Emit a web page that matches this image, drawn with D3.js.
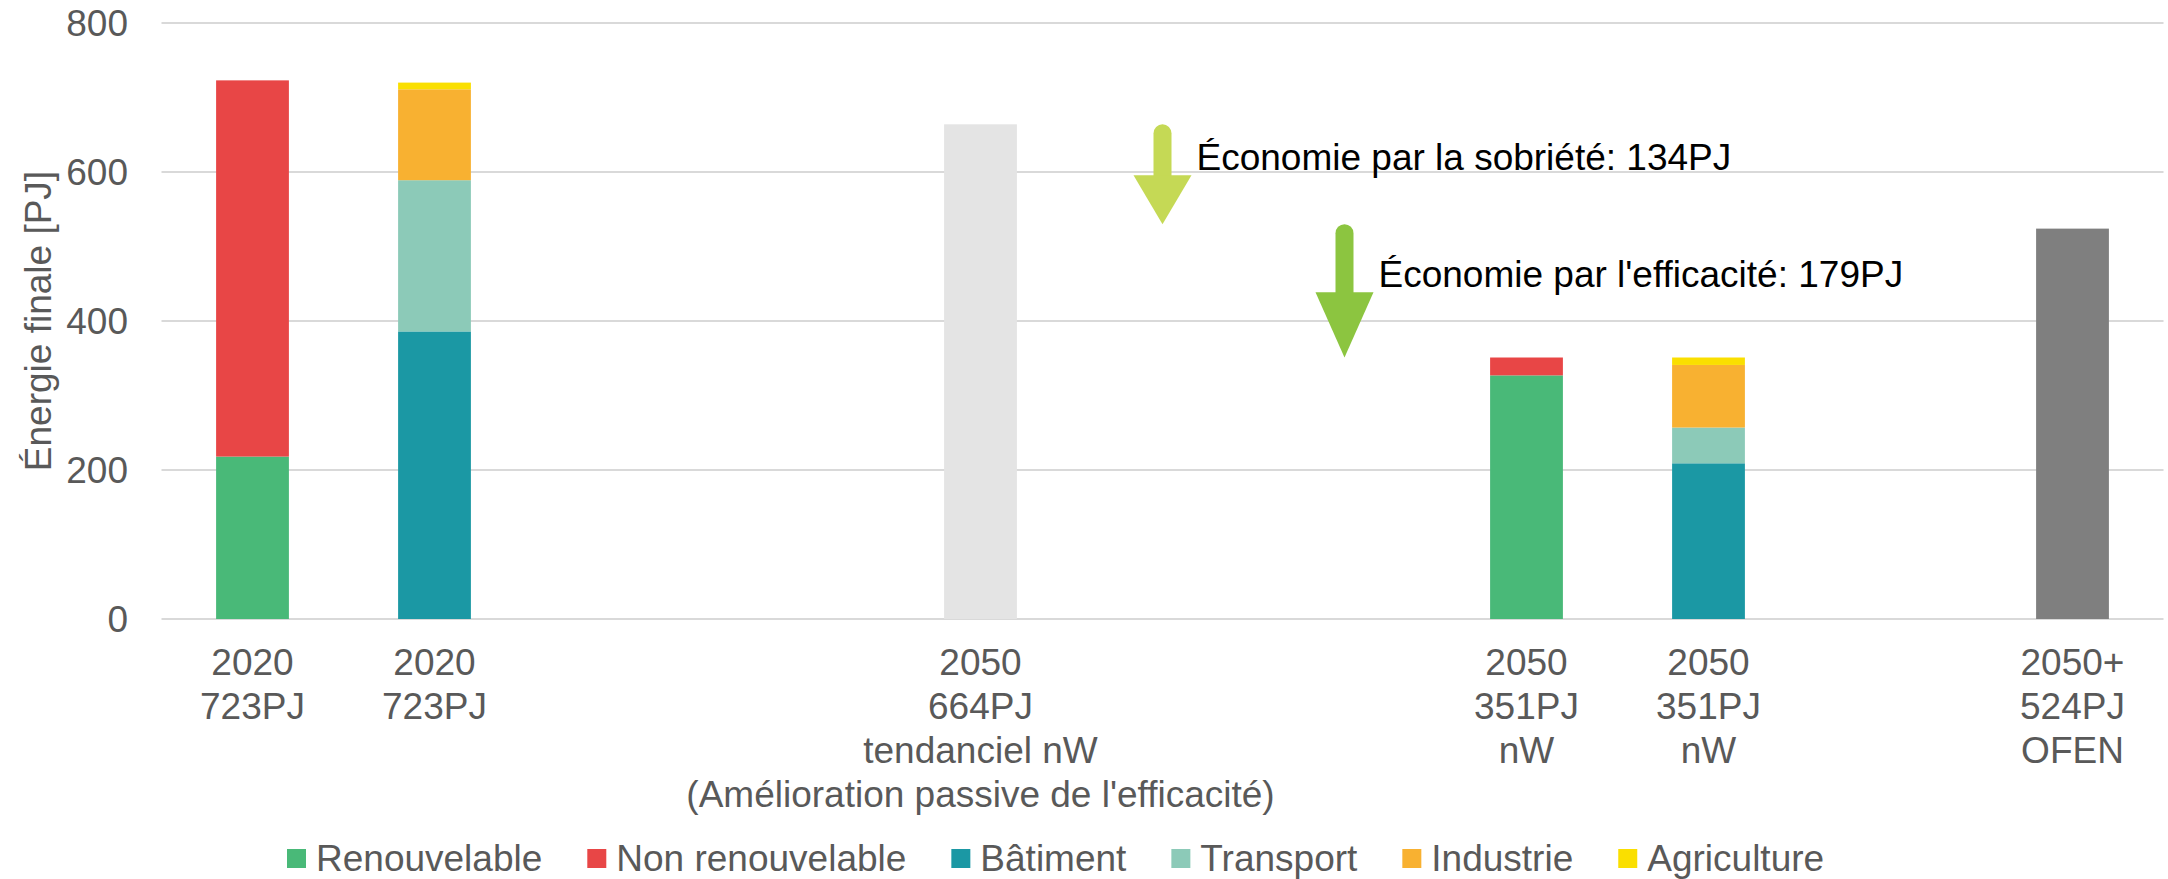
<!DOCTYPE html>
<html>
<head>
<meta charset="utf-8">
<script src="https://cdn.jsdelivr.net/npm/d3@7"></script>
<style>
  body { margin: 0; background: #fff; }
  text { font-family: "Liberation Sans", Arial, sans-serif; }
</style>
</head>
<body>
<div id="chart"></div>
<script>
// categories (11 slots, some left empty like in the original sheet)
var categories = [
  "2020\n723PJ",
  "2020\n723PJ",
  "",
  "",
  "2050\n664PJ\ntendanciel nW\n(Amélioration passive de l'efficacité)",
  "",
  "",
  "2050\n351PJ\nnW",
  "2050\n351PJ\nnW",
  "",
  "2050+\n524PJ\nOFEN"
];

// series values per category
var renouvelable    = [218, 0, 0, 0, 0, 0, 0, 327, 0, 0, 0];
var nonRenouvelable = [505, 0, 0, 0, 0, 0, 0, 24, 0, 0, 0];
var batiment        = [0, 386, 0, 0, 0, 0, 0, 0, 209, 0, 0];
var transport       = [0, 203, 0, 0, 0, 0, 0, 0, 48, 0, 0];
var industrie       = [0, 122, 0, 0, 0, 0, 0, 0, 84, 0, 0];
var agriculture     = [0, 9, 0, 0, 0, 0, 0, 0, 10, 0, 0];
var tendanciel      = [0, 0, 0, 0, 664, 0, 0, 0, 0, 0, 0];
var ofen            = [0, 0, 0, 0, 0, 0, 0, 0, 0, 0, 524];

var legendNames = ["Renouvelable", "Non renouvelable", "Bâtiment", "Transport", "Industrie", "Agriculture"];
var yTicks = [0, 200, 400, 600, 800];

// savings arrows
var arrowSlots  = [5, 6];
var arrowFrom   = [664, 530];
var arrowTo     = [530, 351];
var arrowLabels = ["Économie par la sobriété: 134PJ", "Économie par l'efficacité: 179PJ"];

var colors = {
  "Renouvelable": "#49b978",
  "Non renouvelable": "#e84646",
  "Bâtiment": "#1b98a4",
  "Transport": "#8ccab8",
  "Industrie": "#f8b131",
  "Agriculture": "#fadf00",
  "tendanciel": "#e4e4e4",
  "ofen": "#7f7f7f"
};
var arrowColors = ["#c5d955", "#8cc540"];

function drawChart() {
  var W = 2168, H = 879;
  var plotLeft = 161.5, plotRight = 2163.5, plotTop = 23, plotBottom = 619;
  var fs = "37px";

  var svg = d3.select("#chart").append("svg")
    .attr("width", W).attr("height", H);

  var x = d3.scaleBand()
    .domain(d3.range(categories.length))
    .range([plotLeft, plotRight])
    .paddingInner(0.6)
    .paddingOuter(0.3);

  var y = d3.scaleLinear().domain([0, 800]).range([plotBottom, plotTop]);

  // gridlines
  svg.append("g")
    .selectAll("line")
    .data(yTicks)
    .enter()
    .append("line")
    .attr("x1", plotLeft).attr("x2", plotRight)
    .attr("y1", d => y(d)).attr("y2", d => y(d))
    .attr("stroke", "#d9d9d9")
    .attr("stroke-width", 2);

  // y axis labels
  svg.append("g")
    .selectAll("text")
    .data(yTicks)
    .enter()
    .append("text")
    .attr("x", 128)
    .attr("y", d => y(d))
    .attr("dy", "0.35em")
    .attr("text-anchor", "end")
    .style("font-size", fs)
    .style("fill", "#595959")
    .text(d => d);

  svg.append("text")
    .attr("transform", "translate(38," + (plotTop + plotBottom) / 2 + ")rotate(-90)")
    .attr("text-anchor", "middle")
    .attr("dy", "0.35em")
    .style("font-size", fs)
    .style("fill", "#595959")
    .text("Énergie finale [PJ]");

  // stacked bars
  var rows = categories.map(function (c, i) {
    return {
      "Renouvelable": renouvelable[i],
      "Non renouvelable": nonRenouvelable[i],
      "Bâtiment": batiment[i],
      "Transport": transport[i],
      "Industrie": industrie[i],
      "Agriculture": agriculture[i],
      "tendanciel": tendanciel[i],
      "ofen": ofen[i]
    };
  });
  var keys = legendNames.concat(["tendanciel", "ofen"]);
  var stacked = d3.stack().keys(keys)(rows);

  svg.append("g")
    .selectAll("g")
    .data(stacked)
    .enter()
    .append("g")
    .style("fill", d => colors[d.key])
    .selectAll("rect")
    .data(d => d.map((v, i) => ({ v: v, i: i })).filter(e => e.v[1] - e.v[0] > 0))
    .enter()
    .append("rect")
    .attr("x", d => x(d.i))
    .attr("width", x.bandwidth())
    .attr("y", d => y(d.v[1]))
    .attr("height", d => y(d.v[0]) - y(d.v[1]));

  // x labels (multi line)
  var xl = svg.append("g")
    .selectAll("text")
    .data(categories.map((c, i) => ({ c: c, i: i })).filter(d => d.c !== ""))
    .enter()
    .append("text")
    .attr("text-anchor", "middle")
    .style("font-size", fs)
    .style("fill", "#595959");
  xl.each(function (d) {
    var t = d3.select(this);
    d.c.split("\n").forEach(function (line, k) {
      t.append("tspan")
        .attr("x", x(d.i) + x.bandwidth() / 2)
        .attr("y", plotBottom + 56 + k * 44)
        .text(line);
    });
  });

  // savings arrows
  arrowSlots.forEach(function (s, i) {
    var cx = x(s) + x.bandwidth() / 2;
    var y0 = y(arrowFrom[i]), y1 = y(arrowTo[i]);
    var headTop = y0 + (y1 - y0) * 0.51;
    var g = svg.append("g").style("fill", arrowColors[i]);
    g.append("line")
      .attr("x1", cx).attr("x2", cx)
      .attr("y1", y0 + 9).attr("y2", headTop + 2)
      .attr("stroke", arrowColors[i])
      .attr("stroke-width", 18)
      .attr("stroke-linecap", "round");
    g.append("path")
      .attr("d", "M" + (cx - 29) + "," + headTop + "L" + (cx + 29) + "," + headTop + "L" + cx + "," + y1 + "Z");
    svg.append("text")
      .attr("x", cx + 34)
      .attr("y", (y0 + y1) / 2 - 4)
      .style("font-size", fs)
      .style("fill", "#000")
      .text(arrowLabels[i]);
  });

  // legend
  var lx = 287;
  legendNames.forEach(function (name) {
    svg.append("rect")
      .attr("x", lx).attr("y", 849)
      .attr("width", 19).attr("height", 19)
      .style("fill", colors[name]);
    var t = svg.append("text")
      .attr("x", lx + 29).attr("y", 871)
      .style("font-size", fs)
      .style("fill", "#595959")
      .text(name);
    lx += 29 + t.node().getComputedTextLength() + 45;
  });
}

drawChart();
</script>
</body>
</html>
